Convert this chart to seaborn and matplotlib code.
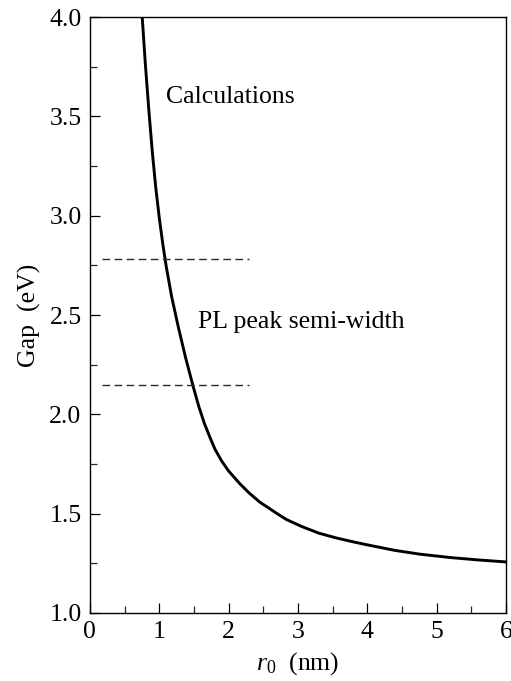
import matplotlib
matplotlib.use("Agg")
import matplotlib.pyplot as plt
import seaborn as sns
import pandas as pd
from matplotlib.ticker import MultipleLocator

# ---- data ----
r0_nm = [0.754, 0.80, 0.85, 0.90, 0.95, 1.00, 1.05, 1.10, 1.18, 1.274,
         1.38, 1.49, 1.57, 1.65, 1.73, 1.803, 1.90, 2.00, 2.164, 2.30,
         2.45, 2.572, 2.70, 2.837, 3.05, 3.30, 3.55, 3.798, 4.00, 4.40,
         4.76, 5.20, 5.60, 6.00]
gap_eV = [4.000, 3.760, 3.530, 3.320, 3.140, 2.990, 2.860, 2.745, 2.590, 2.441,
          2.285, 2.139, 2.040, 1.955, 1.885, 1.825, 1.765, 1.715, 1.650, 1.603,
          1.558, 1.530, 1.500, 1.470, 1.436, 1.402, 1.378, 1.358, 1.343, 1.315,
          1.296, 1.279, 1.267, 1.257]

pl_levels = [2.78, 2.15]        # PL peak semi-width bounds (eV)
pl_r_span = [0.18, 2.30]        # horizontal extent of dashed lines (nm)

x_ticks = [0, 1, 2, 3, 4, 5, 6]
y_ticks = [1.0, 1.5, 2.0, 2.5, 3.0, 3.5, 4.0]

sns.set_theme(style="white")
plt.rcParams["font.family"] = ["Liberation Serif", "DejaVu Serif"]
plt.rcParams["mathtext.fontset"] = "custom"
plt.rcParams["mathtext.rm"] = "Liberation Serif"
plt.rcParams["mathtext.it"] = "Liberation Serif:italic"

fig = plt.figure(figsize=(5.11, 6.81), dpi=100)
ax = fig.add_axes([0.176, 0.0999, 0.814, 0.875])

curve = pd.DataFrame({"r0": r0_nm, "gap": gap_eV})
sns.lineplot(data=curve, x="r0", y="gap", ax=ax, color="black", lw=2.1,
             sort=False, estimator=None)

for lvl in pl_levels:
    d = pd.DataFrame({"r0": pl_r_span, "gap": [lvl, lvl]})
    sns.lineplot(data=d, x="r0", y="gap", ax=ax, color="#2a2a2a", lw=1.0,
                 linestyle=(0, (5.5, 3.2)), estimator=None)

ax.set_xlim(0, 6)
ax.set_ylim(1.0, 4.0)
ax.set_xticks(x_ticks)
ax.set_yticks(y_ticks)
ax.set_xticklabels([str(t) for t in x_ticks])
ax.set_yticklabels([f"{t:.1f}" for t in y_ticks])
ax.xaxis.set_minor_locator(MultipleLocator(0.5))
ax.yaxis.set_minor_locator(MultipleLocator(0.25))
ax.tick_params(axis="both", which="major", direction="in", length=7.5,
               width=0.9, labelsize=18.5, color="black", labelcolor="black",
               top=False, right=False, bottom=True, left=True, pad=6)
ax.tick_params(axis="both", which="minor", direction="in", length=5,
               width=0.9, top=False, right=False, bottom=True, left=True)
for s in ax.spines.values():
    s.set_color("black")
    s.set_linewidth(1.0)

ax.set_xlabel(r"$\mathit{r}_{0}$  (nm)", fontsize=18.5, color="black", labelpad=5)
ax.set_ylabel("Gap  (eV)", fontsize=18.5, color="black", labelpad=6)

ax.text(1.09, 3.60, "Calculations", fontsize=18.5, ha="left", va="center",
        color="black")
ax.text(1.56, 2.466, "PL peak semi-width", fontsize=18.5, ha="left",
        va="center", color="black")

fig.savefig("out.png", dpi=100)
